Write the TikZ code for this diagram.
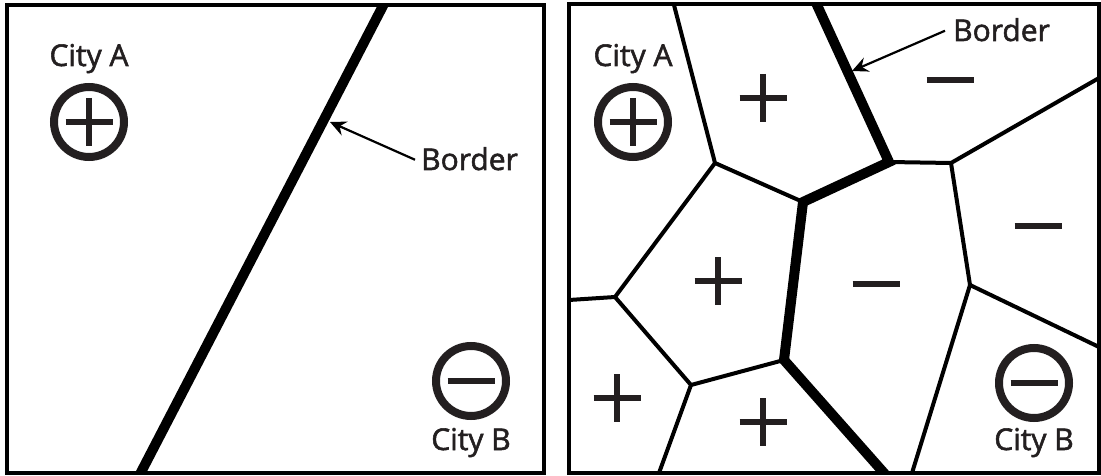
\documentclass[tikz,border=0pt]{standalone}
\usepackage{fontspec}
\setmainfont{Open Sans}
\newfontfamily\lblfont[FakeBold=1.8]{Open Sans}
\usetikzlibrary{arrows.meta,calc}
\definecolor{ink}{HTML}{231F20}
\begin{document}
\begin{tikzpicture}[x=1pt,y=-1pt,
  frame/.style={line width=4pt, draw=black},
  cell/.style={line width=4pt, line join=miter, line cap=butt},
  bord/.style={line width=10pt, line join=miter},
  lbl/.style={font=\lblfont\fontsize{30}{32}\selectfont, text=ink, inner sep=0pt, anchor=base},
  sym/.style={line width=5.5pt, draw=ink},
  ring/.style={line width=8pt, draw=ink},
  plusmark/.pic={\draw[sym] (-23.5,0)--(23.5,0) (0,-24)--(0,24);},
  minusmark/.pic={\draw[sym] (-23.5,0)--(23.5,0);},
  ptr/.style={line width=2.2pt, draw=black, -{Stealth[length=16pt,width=15pt,inset=5.5pt]}}
]
\fill[white] (0,0) rectangle (1101,476);
\useasboundingbox (0,0) rectangle (1101,476);

% ---------- left panel ----------
\begin{scope}
  \clip (7,5) rectangle (544,473);
  \draw[bord] (386,0) -- (138,478);
\end{scope}
\draw[frame] (7,5) rectangle (544,473);

\node[lbl] (cityAl) at (89,66) {City A};
\draw[ring] (89,122) circle[radius=35];
\pic at (89,122) {plusmark};

\draw[ring] (471,381) circle[radius=35];
\pic at (471,381) {minusmark};
\node[lbl] (cityBl) at (471,450) {City B};

\node[lbl, anchor=base west] (borderl) at (421,170) {Border};
\coordinate (tipl) at (330,122);
\draw[ptr] ([xshift=-6pt,yshift=-1pt]borderl.west) -- (tipl);

% ---------- right panel ----------
\coordinate (V1) at (674,5);
\coordinate (V2) at (715,163);
\coordinate (V3) at (803,202);
\coordinate (V4) at (615,297);
\coordinate (V5) at (569,300);
\coordinate (V6) at (691,385);
\coordinate (V7) at (784,360);
\coordinate (V8) at (659,473);
\coordinate (T0) at (817,5);
\coordinate (V9) at (889,162);
\coordinate (Tb) at (884,473);
\coordinate (V10) at (951,163);
\coordinate (V11) at (1099,78);
\coordinate (V12) at (970,285);
\coordinate (V13) at (1099,347);
\coordinate (V14) at (912,473);

\begin{scope}
  \clip (569,4) rectangle (1099,473);
  \draw[cell] ($(V1)!-0.05!(V2)$) -- (V2) -- (V3);
  \draw[cell] (V2) -- (V4) -- ($(V4)!1.2!(V5)$);
  \draw[cell] (V4) -- (V6) -- (V7);
  \draw[cell] (V6) -- ($(V6)!1.05!(V8)$);
  \draw[cell] (V9) -- (V10) -- ($(V10)!1.05!(V11)$);
  \draw[cell] (V10) -- (V12) -- ($(V12)!1.05!(V13)$);
  \draw[cell] (V12) -- ($(V12)!1.05!(V14)$);
  \draw[bord] ($(T0)!-0.05!(V9)$) -- (V9) -- (V3) -- (V7) -- ($(V7)!1.05!(Tb)$);
\end{scope}
\draw[frame] (569,4) rectangle (1099,473);

\node[lbl] (cityAr) at (633,66) {City A};
\draw[ring] (633,122) circle[radius=35];
\pic at (633,122) {plusmark};

\draw[ring] (1034,383) circle[radius=35];
\pic at (1034,383) {minusmark};
\node[lbl] (cityBr) at (1034,450) {City B};

\pic at (763,98) {plusmark};
\pic at (718,281) {plusmark};
\pic at (617,398) {plusmark};
\pic at (763,422) {plusmark};
\pic at (950,80) {minusmark};
\pic at (1038,226) {minusmark};
\pic at (876,284) {minusmark};

\node[lbl, anchor=base west] (borderr) at (953,41) {Border};
\coordinate (tipr) at (852,71);
\draw[ptr] ([xshift=-8pt,yshift=-1pt]borderr.west) -- (tipr);
\end{tikzpicture}
\end{document}
